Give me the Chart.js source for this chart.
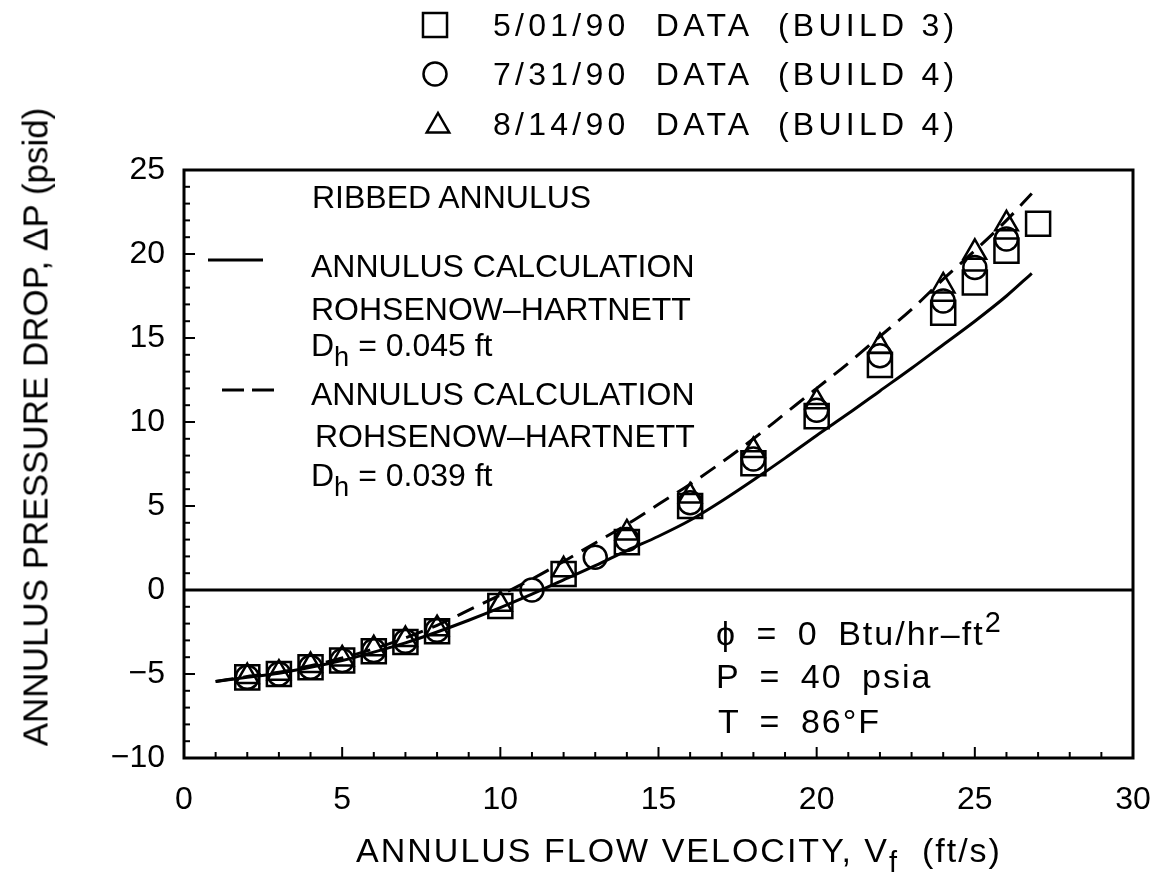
<!DOCTYPE html>
<html><head><meta charset="utf-8">
<script src="https://cdn.jsdelivr.net/npm/chart.js@4.4.1/dist/chart.umd.min.js"></script>
<style>
html,body{margin:0;padding:0;background:#fff;}
#wrap{position:relative;width:1162px;height:879px;overflow:hidden;background:#fff;}
#c{position:absolute;left:0;top:0;}
.t{position:absolute;font-family:'Liberation Sans',Arial,sans-serif;color:#000;white-space:pre;line-height:1;transform:translateY(-50%);font-size:32px;}
.t sub{font-size:0.85em;vertical-align:-0.35em;line-height:0;}
.t sup{font-size:0.85em;vertical-align:0.45em;line-height:0;}
.leg{letter-spacing:4.25px;}
.cond{word-spacing:8px;letter-spacing:2px;font-size:34px;}
</style></head><body>
<div id="wrap">
<canvas id="c" width="1162" height="879"></canvas>
<div class="t leg" style="left:493px;top:25px;">5/01/90  DATA  (BUILD 3)</div>
<div class="t leg" style="left:493px;top:74px;">7/31/90  DATA  (BUILD 4)</div>
<div class="t leg" style="left:493px;top:124px;">8/14/90  DATA  (BUILD 4)</div>

<div class="t" style="left:312px;top:197px;">RIBBED ANNULUS</div>
<div class="t" style="left:311px;top:266px;">ANNULUS CALCULATION</div>
<div class="t" style="left:311px;top:309px;">ROHSENOW–HARTNETT</div>
<div class="t" style="left:311px;top:345px;">D<sub>h</sub> = 0.045 ft</div>
<div class="t" style="left:311px;top:394px;">ANNULUS CALCULATION</div>
<div class="t" style="left:315px;top:436px;">ROHSENOW–HARTNETT</div>
<div class="t" style="left:311px;top:475px;">D<sub>h</sub> = 0.039 ft</div>

<div class="t cond" style="left:716px;top:633px;">ϕ = 0 Btu/hr–ft<sup>2</sup></div>
<div class="t cond" style="left:716px;top:676px;">P = 40 psia</div>
<div class="t cond" style="left:718px;top:721px;">T = 86°F</div>

<div class="t" style="left:679px;top:850px;font-size:34px;letter-spacing:2px;transform:translate(-50%,-50%);">ANNULUS FLOW VELOCITY, V<sub>f</sub>  (ft/s)</div>
<div class="t" style="left:35px;top:427px;font-size:35px;transform:translate(-50%,-50%) rotate(-90deg);">ANNULUS PRESSURE DROP, ΔP (psid)</div>
</div>
<script>
// ---- data ----
const velSquare   = [2, 3, 4, 5, 6, 7, 8, 10, 12, 14, 16, 18, 20, 22, 24, 25, 26, 27];
const dpSquare    = [-5.2, -5.0, -4.6, -4.2, -3.65, -3.1, -2.45, -0.95, 0.95, 2.85, 5.0, 7.55, 10.35, 13.4, 16.5, 18.3, 20.2, 21.8];
const velCircle   = [2, 3, 4, 5, 6, 7, 8, 11, 13, 14, 16, 18, 20, 22, 24, 25, 26];
const dpCircle    = [-5.2, -5.0, -4.6, -4.2, -3.6, -3.05, -2.4, 0.0, 1.95, 3.0, 5.2, 7.8, 10.7, 13.95, 17.2, 19.2, 20.9];
const velTriangle = [2, 3, 4, 5, 6, 7, 8, 10, 12, 14, 16, 18, 20, 22, 24, 25, 26];
const dpTriangle  = [-5.15, -4.95, -4.5, -4.1, -3.5, -2.95, -2.3, -0.85, 1.2, 3.4, 5.6, 8.3, 11.2, 14.5, 18.1, 20.1, 21.8];
const velCalc     = [1, 2, 3, 4, 5, 6, 7, 8, 9, 10, 11, 12, 13, 14, 15, 16, 17, 18, 19, 20, 21, 22, 23, 24, 25, 26, 26.8];
const dpCalc045   = [-5.45, -5.2, -4.95, -4.6, -4.2, -3.7, -3.15, -2.5, -1.8, -1.05, -0.25, 0.6, 1.45, 2.35, 3.2, 4.15, 5.3, 6.55, 7.85, 9.2, 10.5, 11.85, 13.2, 14.6, 16.0, 17.5, 18.85];
const dpCalc039   = [-5.45, -5.15, -4.9, -4.5, -4.05, -3.5, -2.85, -2.1, -1.2, -0.3, 0.65, 1.7, 2.8, 3.9, 5.1, 6.3, 7.6, 9.0, 10.5, 12.0, 13.5, 15.1, 16.7, 18.5, 20.2, 22.0, 23.6];
const xTicks = [0, 5, 10, 15, 20, 25, 30];
const yTicks = [-10, -5, 0, 5, 10, 15, 20, 25];
const seriesLabels = ['5/01/90  DATA  (BUILD 3)', '7/31/90  DATA  (BUILD 4)', '8/14/90  DATA  (BUILD 4)'];
const calcLabels = ['ANNULUS CALCULATION ROHSENOW–HARTNETT Dh = 0.045 ft', 'ANNULUS CALCULATION ROHSENOW–HARTNETT Dh = 0.039 ft'];

const pts = (xs, ys) => xs.map((v, i) => ({x: v, y: ys[i]}));
const FONT = "'Liberation Sans', Arial, sans-serif";

const framePlugin = {
  id: 'frame',
  beforeDatasetsDraw(chart) {
    const {ctx, chartArea: a, scales: {y}} = chart;
    ctx.save();
    ctx.strokeStyle = '#000'; ctx.lineWidth = 3;
    const y0 = y.getPixelForValue(0);
    ctx.beginPath(); ctx.moveTo(a.left, y0); ctx.lineTo(a.right, y0); ctx.stroke();
    ctx.restore();
  },
  afterDatasetsDraw(chart) {
    const {ctx, chartArea: a, scales: {x, y}} = chart;
    ctx.save();
    ctx.strokeStyle = '#000';
    ctx.lineWidth = 3;
    ctx.strokeRect(a.left, a.top, a.right - a.left, a.bottom - a.top);
    ctx.lineWidth = 2;
    for (let v = y.min; v <= y.max; v++) {
      const p = y.getPixelForValue(v);
      const len = (v % 5 === 0) ? 11 : 6;
      ctx.beginPath(); ctx.moveTo(a.left, p); ctx.lineTo(a.left + len, p); ctx.stroke();
    }
    for (let v = x.min; v <= x.max; v++) {
      const p = x.getPixelForValue(v);
      const len = (v % 5 === 0) ? 11 : 6;
      ctx.beginPath(); ctx.moveTo(p, a.bottom); ctx.lineTo(p, a.bottom - len); ctx.stroke();
    }
    // line-style legend samples inside the plot
    ctx.lineWidth = 3;
    ctx.beginPath(); ctx.moveTo(208, 260); ctx.lineTo(263, 260); ctx.stroke();
    ctx.setLineDash([22, 8]);
    ctx.beginPath(); ctx.moveTo(222, 390); ctx.lineTo(275, 390); ctx.stroke();
    ctx.setLineDash([]);
    // marker legend at top
    ctx.lineWidth = 2.5;
    const ds = chart.data.datasets;
    const rows = [[435, 25], [435, 74], [438, 126]];
    [2, 3, 4].forEach((di, k) => {
      const d = ds[di];
      const [cx, cy] = rows[k];
      const r = d.pointRadius;
      ctx.beginPath();
      if (d.pointStyle === 'rect') {
        const h = Math.SQRT1_2 * r;
        ctx.rect(cx - h, cy - h, 2 * h, 2 * h);
      } else if (d.pointStyle === 'circle') {
        ctx.arc(cx, cy, r, 0, Math.PI * 2);
      } else {
        ctx.moveTo(cx, cy - r);
        ctx.lineTo(cx + 0.866 * r, cy + 0.5 * r);
        ctx.lineTo(cx - 0.866 * r, cy + 0.5 * r);
        ctx.closePath();
      }
      ctx.stroke();
    });
    ctx.restore();
  }
};

new Chart(document.getElementById('c'), {
  type: 'scatter',
  data: {
    datasets: [
      {label: calcLabels[0], data: pts(velCalc, dpCalc045), showLine: true, borderColor: '#000', borderWidth: 3,
       pointRadius: 0, cubicInterpolationMode: 'monotone', fill: false},
      {label: calcLabels[1], data: pts(velCalc, dpCalc039), showLine: true, borderColor: '#000', borderWidth: 3,
       borderDash: [18, 10], pointRadius: 0, cubicInterpolationMode: 'monotone', fill: false},
      {label: seriesLabels[0], data: pts(velSquare, dpSquare), pointStyle: 'rect', pointRadius: 17,
       pointBorderWidth: 2.5, borderColor: '#000', backgroundColor: 'rgba(0,0,0,0)', showLine: false},
      {label: seriesLabels[1], data: pts(velCircle, dpCircle), pointStyle: 'circle', pointRadius: 11.5,
       pointBorderWidth: 2.5, borderColor: '#000', backgroundColor: 'rgba(0,0,0,0)', showLine: false},
      {label: seriesLabels[2], data: pts(velTriangle, dpTriangle), pointStyle: 'triangle', pointRadius: 13,
       pointBorderWidth: 2.5, borderColor: '#000', backgroundColor: 'rgba(0,0,0,0)', showLine: false}
    ]
  },
  options: {
    responsive: false,
    animation: false,
    devicePixelRatio: 1,
    layout: {padding: {top: 170, right: 29, left: 0, bottom: 0}},
    plugins: {legend: {display: false}, tooltip: {enabled: false}},
    scales: {
      x: {
        type: 'linear', min: 0, max: 30,
        afterFit(s) { s.height = 121; s.paddingRight = 0; s.paddingLeft = 0; },
        afterBuildTicks(s) { s.ticks = xTicks.map(v => ({value: v})); },
        grid: {display: false, drawTicks: false},
        border: {display: false},
        ticks: {color: '#000', padding: 23, font: {family: FONT, size: 32}}
      },
      y: {
        type: 'linear', min: -10, max: 25,
        afterFit(s) { s.width = 184; s.paddingTop = 0; s.paddingBottom = 0; },
        afterBuildTicks(s) { s.ticks = yTicks.map(v => ({value: v})); },
        grid: {display: false, drawTicks: false},
        border: {display: false},
        ticks: {color: '#000', padding: 19, font: {family: FONT, size: 32},
                callback: v => (v < 0 ? '−' + Math.abs(v) : String(v))}
      }
    }
  },
  plugins: [framePlugin]
});
</script>
</body></html>
